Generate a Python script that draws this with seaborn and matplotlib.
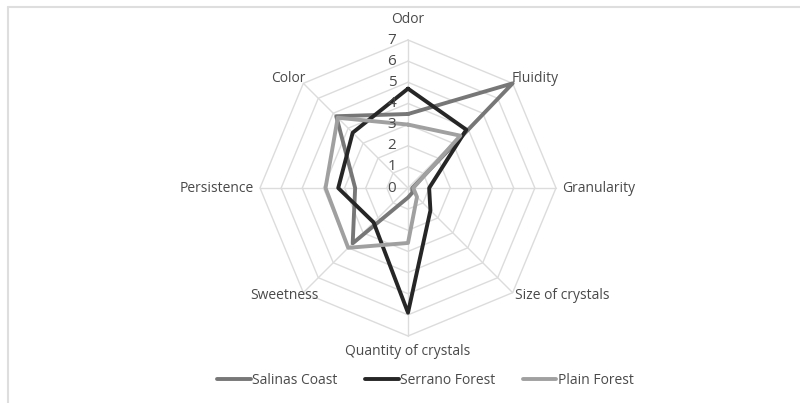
import numpy as np
import pandas as pd
import matplotlib
matplotlib.use("Agg")
import matplotlib.pyplot as plt
from matplotlib.lines import Line2D
import seaborn as sns

categories = ["Odor", "Fluidity", "Granularity", "Size of crystals",
              "Quantity of crystals", "Sweetness", "Persistence", "Color"]
salinas_coast = [3.5, 7.0, 0.2, 0.3, 0.45, 3.7, 2.5, 4.8]
serrano_forest = [4.7, 3.9, 1.0, 1.5, 5.9, 2.3, 3.3, 3.7]
plain_forest = [3.0, 3.5, 0.25, 0.6, 2.6, 4.0, 3.9, 4.7]
series_names = ["Salinas Coast", "Serrano Forest", "Plain Forest"]
tick_values = [0, 1, 2, 3, 4, 5, 6, 7]

colors = {"Salinas Coast": "#777777", "Serrano Forest": "#262626", "Plain Forest": "#a0a0a0"}
text_color = "#4a4a4a"
grid_color = "#dcdcdc"

sns.set_theme(style="white")
plt.rcParams["font.family"] = ["Open Sans", "DejaVu Sans"]

W, H = 800, 403
fig = plt.figure(figsize=(W / 100, H / 100), dpi=100)
fig.patch.set_facecolor("white")

# axes geometry: centre at pixel (408,188), 7 units = 148 px
cx, cy = 408, 188
ppu = 148 / 7.0
hw, hh = 205, 172
ax = fig.add_axes([(cx - hw) / W, (H - (cy + hh)) / H, 2 * hw / W, 2 * hh / H])
ax.set_xlim(-hw / ppu, hw / ppu)
ax.set_ylim(-hh / ppu, hh / ppu)
ax.axis("off")

n = len(categories)
theta = np.arange(n) * 2 * np.pi / n

# grid rings (octagons) and spokes
for r in tick_values[1:]:
    xs = np.append(r * np.sin(theta), r * np.sin(theta[0]))
    ys = np.append(r * np.cos(theta), r * np.cos(theta[0]))
    ax.plot(xs, ys, color=grid_color, lw=1.0, zorder=1)
rmax = tick_values[-1]
for t in theta:
    ax.plot([0, rmax * np.sin(t)], [0, rmax * np.cos(t)], color=grid_color, lw=1.0, zorder=1)

# data
rows = []
for name, vals in zip(series_names, [salinas_coast, serrano_forest, plain_forest]):
    for i in list(range(n)) + [0]:
        rows.append({"series": name, "order": len(rows),
                     "x": vals[i] * np.sin(theta[i]), "y": vals[i] * np.cos(theta[i])})
df = pd.DataFrame(rows)
sns.lineplot(data=df, x="x", y="y", hue="series", hue_order=series_names,
             palette=colors, sort=False, estimator=None, lw=2.8, ax=ax,
             legend=False, zorder=3)

# tick labels
for v in tick_values:
    ax.text(-0.55, v, str(v), ha="right", va="center", fontsize=11,
            color=text_color, zorder=4)

# category labels (positions in data units)
fs = 10
lab = [
    (0, 7.95, "center", "center"),
    (4.9, 5.2, "left", "center"),
    (7.3, 0.0, "left", "center"),
    (5.05, -5.1, "left", "center"),
    (0.0, -7.75, "center", "center"),
    (-4.25, -5.1, "right", "center"),
    (-7.3, 0.0, "right", "center"),
    (-4.85, 5.2, "right", "center"),
]
for (x, y, ha, va), c in zip(lab, categories):
    ax.text(x, y, c, ha=ha, va=va, fontsize=fs, color=text_color, clip_on=False)

# legend
handles = [Line2D([0], [0], color=colors[s], lw=2.8) for s in series_names]
leg = fig.legend(handles, series_names, loc="center", bbox_to_anchor=(0.532, 1 - 380 / H),
                 ncol=3, frameon=False, fontsize=fs, handlelength=2.4,
                 handletextpad=0.1, columnspacing=2.0)
for t in leg.get_texts():
    t.set_color(text_color)

# outer chart border (top and left visible)
fig.add_artist(Line2D([8 / W, 1.0], [1 - 7 / H, 1 - 7 / H], color="#dedede", lw=1.5,
                      transform=fig.transFigure))
fig.add_artist(Line2D([8 / W, 8 / W], [0, 1 - 7 / H], color="#dedede", lw=1.5,
                      transform=fig.transFigure))

fig.savefig("out.png", dpi=100, facecolor="white")
